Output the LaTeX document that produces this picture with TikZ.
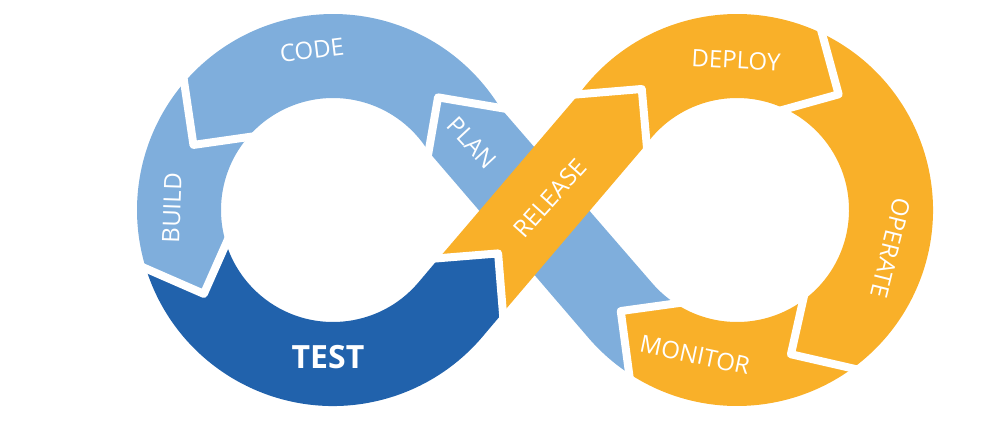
\documentclass[tikz,border=0pt]{standalone}
\usepackage{fontspec}
\setmainfont{Open Sans}
\usetikzlibrary{calc}
\definecolor{PlanBlue}{RGB}{127,174,220}
\definecolor{TestBlue}{RGB}{33,98,172}
\definecolor{OpsOrange}{RGB}{249,176,41}
\def\rOut{196}\def\rIn{112}\def\rMid{154}

\begin{document}
\begin{tikzpicture}[x=0.5pt,y=0.5pt,
lbl/.style={text=white,inner sep=0pt,font=\fontsize{12}{14}\selectfont},
gap/.style={draw=white,line width=4pt,line join=round,shorten <=-3pt,shorten >=-3pt}
]
\useasboundingbox (0,0) rectangle (1000,420);
\coordinate (L) at (333,210);
\coordinate (R) at (737,210);
% chevron cuts: tip on the centre line, arms 15.6 deg back
\coordinate (b1t) at ($(L)+(47:\rMid)$);
\coordinate (b1o) at ($(L)+(31.4:\rOut)$);
\coordinate (b1i) at ($(L)+(31.4:\rIn)$);
\coordinate (b2t) at ($(L)+(155:\rMid)$);
\coordinate (b2o) at ($(L)+(139.4:\rOut)$);
\coordinate (b2i) at ($(L)+(139.4:\rIn)$);
\coordinate (b3t) at ($(L)+(213:\rMid)$);
\coordinate (b3o) at ($(L)+(197.4:\rOut)$);
\coordinate (b3i) at ($(L)+(197.4:\rIn)$);
\coordinate (b4t) at (498.1,166.6);
\coordinate (b4o) at (502.9,107.4);
\coordinate (b4i) at (438.9,161.8);
\coordinate (b5t) at ($(R)+(128.2:\rMid)$);
\coordinate (b5o) at ($(R)+(143.8:\rOut)$);
\coordinate (b5i) at ($(R)+(143.8:\rIn)$);
\coordinate (b6t) at ($(R)+(48.7:\rMid)$);
\coordinate (b6o) at ($(R)+(64.3:\rOut)$);
\coordinate (b6i) at ($(R)+(64.3:\rIn)$);
\coordinate (b7t) at ($(R)+(-69.5:\rMid)$);
\coordinate (b7o) at ($(R)+(-53.9:\rOut)$);
\coordinate (b7i) at ($(R)+(-53.9:\rIn)$);
\coordinate (b8t) at ($(R)+(-139:\rMid)$);
\coordinate (b8o) at ($(R)+(-123.4:\rOut)$);
\coordinate (b8i) at ($(R)+(-123.4:\rIn)$);

% plan (under release)
\fill[PlanBlue] (b8o) arc[start angle=-123.4,end angle=-139.68,radius=\rOut]
  -- (b1i) -- (b1t) -- (b1o) -- ($(R)+(-139.68:\rIn)$)
  arc[start angle=-139.68,end angle=-123.4,radius=\rIn] -- (b8t) -- cycle;
\fill[PlanBlue] (b1o) arc[start angle=31.4,end angle=139.4,radius=\rOut]
  -- (b2t) -- (b2i) arc[start angle=139.4,end angle=31.4,radius=\rIn] -- (b1t) -- cycle;
\fill[PlanBlue] (b2o) arc[start angle=139.4,end angle=197.4,radius=\rOut]
  -- (b3t) -- (b3i) arc[start angle=197.4,end angle=139.4,radius=\rIn] -- (b2t) -- cycle;
\fill[TestBlue] (b3o) arc[start angle=197.4,end angle=319.68,radius=\rOut]
  -- (b4o) -- (b4t) -- (b4i) -- ($(L)+(-40.32:\rIn)$)
  arc[start angle=319.68,end angle=197.4,radius=\rIn] -- (b3t) -- cycle;
\fill[OpsOrange] (b4i) -- (b5o) -- (b5t) -- (b5i) -- (b4o) -- (b4t) -- cycle;
\fill[OpsOrange] (b5o) arc[start angle=143.8,end angle=64.3,radius=\rOut]
  -- (b6t) -- (b6i) arc[start angle=64.3,end angle=143.8,radius=\rIn] -- (b5t) -- cycle;
\fill[OpsOrange] (b6o) arc[start angle=64.3,end angle=-53.9,radius=\rOut]
  -- (b7t) -- (b7i) arc[start angle=-53.9,end angle=64.3,radius=\rIn] -- (b6t) -- cycle;
\fill[OpsOrange] (b7o) arc[start angle=-53.9,end angle=-123.4,radius=\rOut]
  -- (b8t) -- (b8i) arc[start angle=-123.4,end angle=-53.9,radius=\rIn] -- (b7t) -- cycle;

\foreach \k in {1,...,8}
  \draw[gap] (b\k o) -- (b\k t) -- (b\k i);

\node[lbl,rotate=7] (code) at (312,370) {CODE};
\node[lbl,rotate=88] (build) at (172,212) {BUILD};
\node[lbl,rotate=0,font=\fontsize{16}{18}\selectfont\bfseries] (test) at (328,63) {TEST};
\node[lbl,rotate=-47] (plan) at (472,277) {PLAN};
\node[lbl,rotate=48] (release) at (550,222) {RELEASE};
\node[lbl,rotate=-3] (deploy) at (736,360) {DEPLOY};
\node[lbl,rotate=-104] (operate) at (891,172) {OPERATE};
\node[lbl,rotate=-12] (monitor) at (695,65) {MONITOR};
\end{tikzpicture}
\end{document}
